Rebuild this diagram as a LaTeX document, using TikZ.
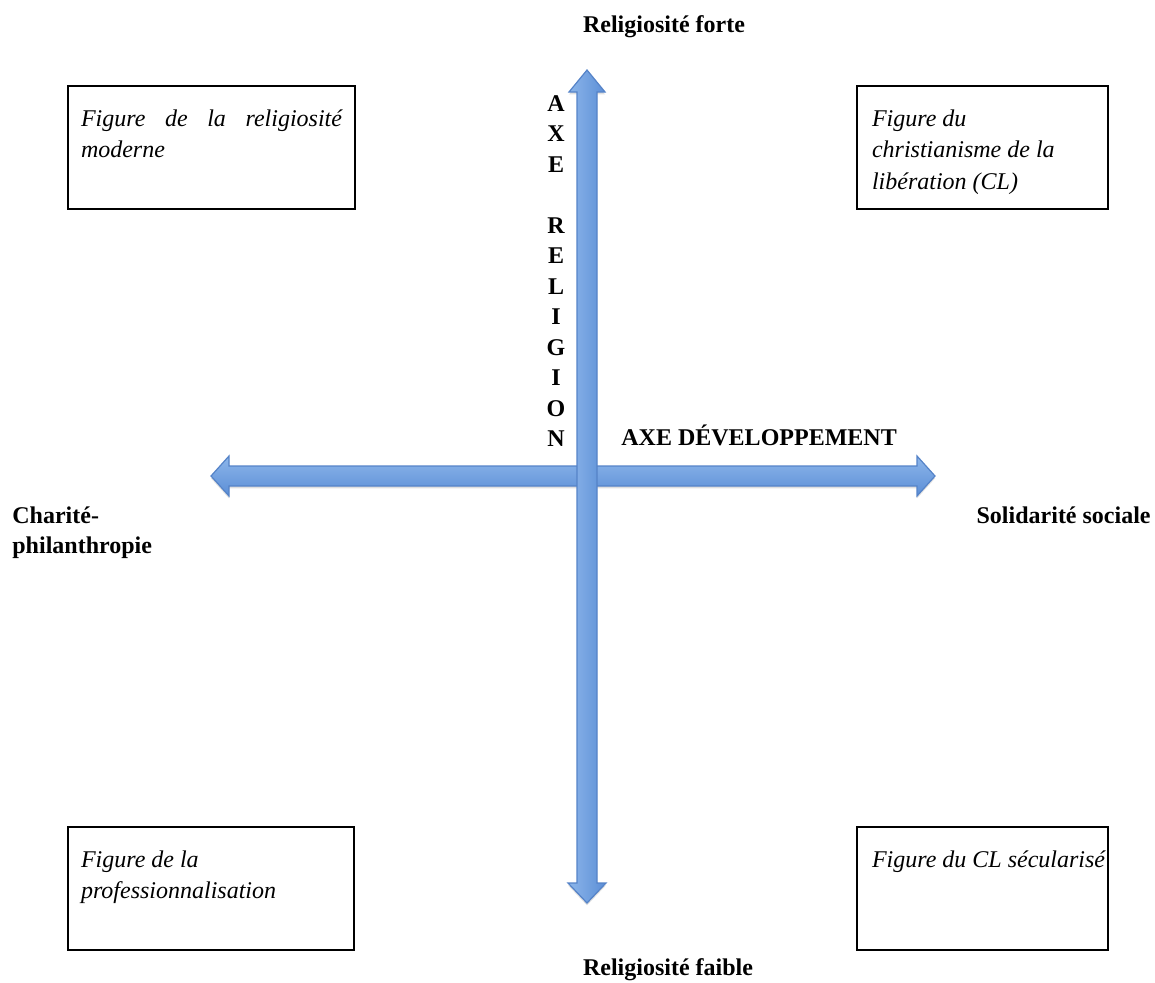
\documentclass[tikz,border=0pt]{standalone}
\usepackage{fontspec}
\setmainfont{Liberation Serif}
\usepackage{tikz}
\usetikzlibrary{positioning,shadows}
\definecolor{axislight}{HTML}{8DB6EA}
\definecolor{axisdark}{HTML}{5B8ED6}
\definecolor{axisedge}{HTML}{5583C8}
\newcommand{\figtext}[2]{\begin{minipage}[t][61.5pt][t]{#1}\hyphenpenalty=10000\rule{0pt}{20pt}#2\end{minipage}}
\tikzset{
    figbox/.style = {
        draw,
        shape=rectangle,
        line width=1pt,
        inner xsep=6.5pt,
        inner ysep=0pt,
        anchor=north west,
        font=\fontsize{12}{15.75}\selectfont\itshape
    },
    pole/.style = {
        inner sep=0pt,
        font=\fontsize{12}{15}\selectfont\bfseries
    },
    axis/.style = {
        draw=axisedge,
        line width=0.6pt,
        drop shadow={opacity=0.25, shadow xshift=0pt, shadow yshift=-1.2pt}
    },
}

\begin{document}
\begin{tikzpicture}[x=0.5pt, y=-0.5pt]
    \useasboundingbox (0,0) rectangle (1155,982);

    \node[figbox] (moderne) at (67,85) {\figtext{130.5pt}{Figure de la religiosité\linebreak moderne}};
    \node[figbox, inner xsep=7.5pt] (liberation) at (856,85) {\figtext{110.5pt}{Figure du\\christianisme de la\\libération (CL)}};
    \node[figbox] (profession) at (67,826) {\figtext{130pt}{Figure de la\\professionnalisation}};
    \node[figbox, inner xsep=7.5pt] (secular) at (856,826) {\figtext{110.5pt}{\makebox[0pt][l]{Figure du CL sécularisé}}};

    \path[axis, top color=axislight, bottom color=axisdark]
        (211,476) -- (229,456) -- (229,466) -- (917,466) -- (917,456) -- (935,476)
        -- (917,496) -- (917,486) -- (229,486) -- (229,496) -- cycle;
    \path[axis, left color=axislight, right color=axisdark]
        (587,70) -- (605,92) -- (597,92) -- (597,883) -- (606,883) -- (587,903)
        -- (568,883) -- (577,883) -- (577,92) -- (569,92) -- cycle;

    \node[pole, anchor=base] (forte) at (664,32) {Religiosité forte};
    \node[pole, anchor=base] (faible) at (668,975) {Religiosité faible};
    \node[pole, anchor=north west, align=left] (charite) at (12,506) {Charité-\\philanthropie};
    \node[pole, anchor=base east] (solidarite) at (1151,523) {Solidarité sociale};
    \node[pole, anchor=base west] (axedev) at (621,445) {AXE DÉVELOPPEMENT};
    \node[pole, anchor=north, align=center, font=\fontsize{12}{15.25}\selectfont\bfseries] (axerel) at (556,95)
        {A\\X\\E\\[15.25pt]R\\E\\L\\I\\G\\I\\O\\N};
\end{tikzpicture}
\end{document}
